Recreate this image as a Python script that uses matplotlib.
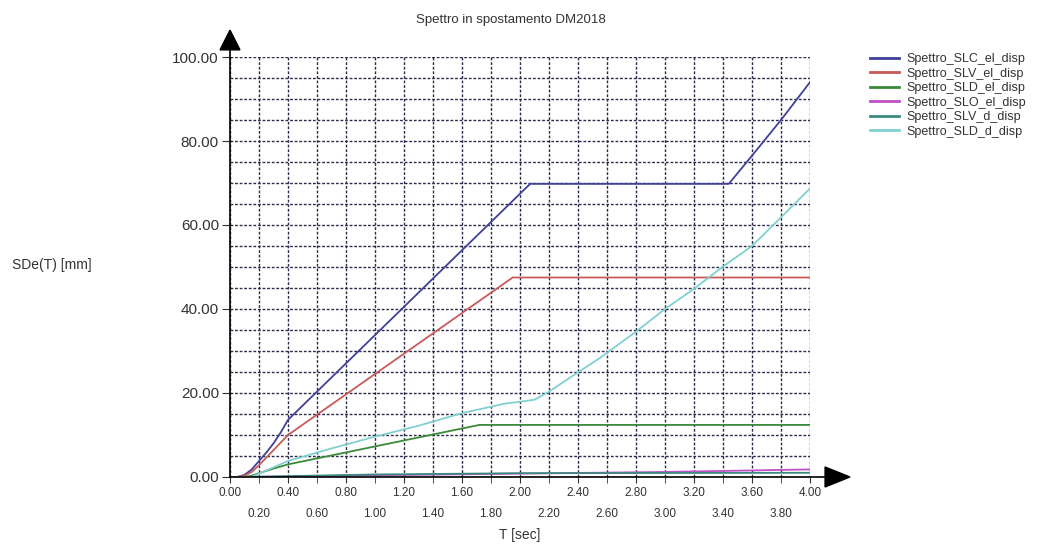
import numpy as np
import matplotlib
matplotlib.use("Agg")
import matplotlib.pyplot as plt
from matplotlib.patches import Polygon
from matplotlib.ticker import MultipleLocator

plt.rcParams['font.family'] = ['Liberation Sans', 'DejaVu Sans']

# values (T in sec, SDe in mm)
t_slc_el = [0, 0.05, 0.1, 0.15, 0.2, 0.25, 0.3, 0.35, 0.4, 2.07, 3.44, 3.6, 3.8, 4.0]
sd_slc_el = [0, 0, 0.5, 1.8, 3.8, 5.8, 8.0, 10.6, 13.6, 69.8, 69.8, 76.5, 85.0, 94.0]

t_slv_el = [0, 0.05, 0.1, 0.15, 0.2, 0.25, 0.3, 0.35, 0.4, 1.95, 4.0]
sd_slv_el = [0, 0, 0.3, 1.2, 2.8, 4.6, 6.4, 8.2, 10.0, 47.5, 47.5]

t_sld_el = [0, 0.1, 0.15, 0.2, 0.3, 0.4, 1.72, 4.0]
sd_sld_el = [0, 0, 0.3, 0.9, 2.0, 3.0, 12.4, 12.4]

t_slo_el = [0, 0.1, 1.0, 2.0, 3.0, 4.0]
sd_slo_el = [0, 0, 0.4, 0.8, 1.2, 1.8]

t_slv_d = [0, 0.1, 1.0, 2.0, 4.0]
sd_slv_d = [0, 0, 0.6, 0.9, 1.0]

t_sld_d = [0, 0.15, 0.2, 0.3, 0.4, 0.7, 1.0, 1.3, 1.6, 1.9, 2.0, 2.1, 2.2, 2.32,
           2.55, 2.8, 3.0, 3.2, 3.4, 3.6, 3.8, 4.0]
sd_sld_d = [0, 0, 0.8, 2.3, 3.8, 6.8, 9.6, 12.2, 15.2, 17.5, 17.9, 18.4, 20.3, 23.1,
            28.3, 34.6, 40.0, 44.8, 50.1, 55.0, 61.8, 68.7]

series = [
    ('Spettro_SLC_el_disp', t_slc_el, sd_slc_el, '#40409a'),
    ('Spettro_SLV_el_disp', t_slv_el, sd_slv_el, '#c85a5a'),
    ('Spettro_SLD_el_disp', t_sld_el, sd_sld_el, '#3a8a3a'),
    ('Spettro_SLO_el_disp', t_slo_el, sd_slo_el, '#c050c8'),
    ('Spettro_SLV_d_disp', t_slv_d, sd_slv_d, '#3a8a80'),
    ('Spettro_SLD_d_disp', t_sld_d, sd_sld_d, '#80d0d0'),
]

fig = plt.figure(figsize=(10.45, 5.44), dpi=100)
ax = fig.add_axes([0.2201, 0.1232, 0.555, 0.772])

for name, t, sd, col in series:
    ax.plot(t, sd, color=col, lw=1.3, label=name)

ax.set_xlim(0, 4.0)
ax.set_ylim(0, 100)

# x ticks: labels staggered on two rows
ax.xaxis.set_major_locator(MultipleLocator(0.4))
ax.set_xticks(np.arange(0.2, 4.0, 0.4), minor=True)
ax.xaxis.set_major_formatter(lambda v, p: f'{v:.2f}')
ax.xaxis.set_minor_formatter(lambda v, p: f'{v:.2f}')
ax.tick_params(axis='x', which='major', length=4, pad=3, labelsize=8.5, colors='#333333')
ax.tick_params(axis='x', which='minor', length=4, pad=18, labelsize=8.5, colors='#333333')

ax.yaxis.set_major_locator(MultipleLocator(20))
ax.yaxis.set_minor_locator(MultipleLocator(5))
ax.yaxis.set_major_formatter(lambda v, p: f'{v:.2f}')
ax.tick_params(axis='y', which='major', length=6, pad=2, labelsize=11, colors='#333333')
ax.tick_params(axis='y', which='minor', length=0)

ax.grid(True, which='both', color='#2a2a4a', ls=(0, (2, 1.3)), lw=1.0)
ax.set_axisbelow(True)

for s in ['top', 'right', 'left', 'bottom']:
    ax.spines[s].set_visible(False)

# axis lines with arrow heads
ax.plot([0, 0], [0, 1.02], transform=ax.transAxes, color='black', lw=1.2, clip_on=False)
ax.plot([0, 1.03], [0, 0], transform=ax.transAxes, color='black', lw=1.2, clip_on=False)
ax.add_patch(Polygon([[-0.0172, 1.017], [0.0172, 1.017], [0, 1.064]], closed=True,
                     transform=ax.transAxes, color='black', clip_on=False))
ax.add_patch(Polygon([[1.026, -0.0238], [1.026, 0.0238], [1.069, 0]], closed=True,
                     transform=ax.transAxes, color='black', clip_on=False))

fig.text(0.489, 0.963, 'Spettro in spostamento DM2018', ha='center', va='center',
         fontsize=9.5, color='#333333')
fig.text(0.050, 0.513, 'SDe(T) [mm]', ha='center', va='center', fontsize=10, color='#333333')
fig.text(0.497, 0.017, 'T [sec]', ha='center', va='center', fontsize=10, color='#333333')

leg = fig.legend(loc='upper left', bbox_to_anchor=(0.833, 0.902), frameon=False, fontsize=9,
                 handlelength=2.3, handletextpad=0.55, labelspacing=0.2, borderpad=0,
                 borderaxespad=0, labelcolor='#333333')
for h in leg.get_lines():
    h.set_linewidth(2.0)

fig.savefig('out.png', dpi=100)
